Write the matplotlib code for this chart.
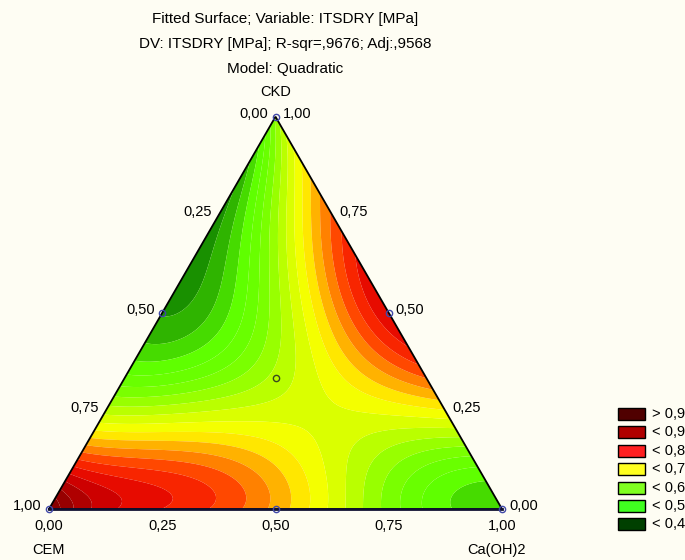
import numpy as np
import matplotlib
matplotlib.use("Agg")
import matplotlib.pyplot as plt
import matplotlib.tri as mtri
from matplotlib.colors import LinearSegmentedColormap
from matplotlib.patches import Rectangle

plt.rcParams['font.family'] = ['Liberation Sans', 'DejaVu Sans']

# ITS dry [MPa] over the mixture: Ca(OH)2 and CKD fractions (CEM = rest)
caoh = [0.0,
        0.0, 0.0625, 0.125,
        0.2,
        0.0, 0.086, 0.14, 0.185, 0.207, 0.236,
        0.007, 0.047, 0.129, 0.213, 0.25, 0.283, 0.32, 0.36, 0.37,
        0.006, 0.072, 0.17, 0.253, 0.27, 0.315, 0.355, 0.39, 0.46, 0.5,
        0.0, 0.133, 0.288, 0.35, 0.4, 0.458, 0.52, 0.585, 0.6,
        0.1, 0.25,
        0.0, 0.183, 0.35, 0.404, 0.51, 0.625, 0.69, 0.7,
        0.0, 0.19, 0.4, 0.52, 0.675, 0.8,
        0.0, 0.15, 0.3, 0.37, 0.445, 0.504, 0.614, 0.725, 0.88, 0.9,
        0.0, 0.11, 0.22, 0.33, 0.42, 0.5, 0.576, 0.66, 0.775, 0.93, 1.0]
ckd = [1.0,
       0.875, 0.875, 0.875,
       0.8,
       0.76, 0.76, 0.76, 0.76, 0.76, 0.76,
       0.63, 0.63, 0.63, 0.63, 0.63, 0.63, 0.63, 0.63, 0.63,
       0.5, 0.5, 0.5, 0.5, 0.5, 0.5, 0.5, 0.5, 0.5, 0.5,
       0.4, 0.4, 0.4, 0.4, 0.4, 0.4, 0.4, 0.4, 0.4,
       0.33, 0.35,
       0.3, 0.3, 0.3, 0.3, 0.3, 0.3, 0.3, 0.3,
       0.2, 0.2, 0.2, 0.2, 0.2, 0.2,
       0.1, 0.1, 0.1, 0.1, 0.1, 0.1, 0.1, 0.1, 0.1, 0.1,
       0.0, 0.0, 0.0, 0.0, 0.0, 0.0, 0.0, 0.0, 0.0, 0.0, 0.0]
its = [0.60,
       0.52, 0.60, 0.70,
       0.76,
       0.45, 0.56, 0.63, 0.69, 0.75, 0.80,
       0.44, 0.50, 0.56, 0.63, 0.69, 0.74, 0.78, 0.81, 0.82,
       0.46, 0.51, 0.56, 0.60, 0.64, 0.69, 0.74, 0.78, 0.82, 0.83,
       0.51, 0.56, 0.59, 0.64, 0.69, 0.74, 0.78, 0.82, 0.82,
       0.56, 0.58,
       0.60, 0.58, 0.62, 0.68, 0.70, 0.72, 0.75, 0.75,
       0.69, 0.68, 0.69, 0.66, 0.62, 0.64,
       0.84, 0.81, 0.79, 0.77, 0.74, 0.71, 0.66, 0.58, 0.55, 0.55,
       0.95, 0.87, 0.83, 0.80, 0.77, 0.74, 0.70, 0.65, 0.56, 0.54, 0.50]

# design points shown as markers (CEM, Ca(OH)2, CKD)
design_cem  = [1.0, 0.0, 0.0, 0.5, 0.5, 0.0, 1/3]
design_caoh = [0.0, 1.0, 0.0, 0.5, 0.0, 0.5, 1/3]
design_ckd  = [0.0, 0.0, 1.0, 0.0, 0.5, 0.5, 1/3]

axis_ticks = [0.0, 0.25, 0.5, 0.75, 1.0]

legend_labels = ["> 0,9", "< 0,9", "< 0,8", "< 0,7", "< 0,6", "< 0,5", "< 0,4"]
legend_colors = ["#500000", "#b00000", "#ff2020", "#ffff20", "#80ff20", "#40ff20", "#004000"]

title_lines = ["Fitted Surface; Variable: ITSDRY [MPa]",
               "DV: ITSDRY [MPa]; R-sqr=,9676; Adj:,9568",
               "Model: Quadratic"]

bg = "#fefdf3"
W, H = 685, 560
S3 = np.sqrt(3) / 2
DEG = 5


def tern_xy(b, c):
    b = np.asarray(b, float)
    c = np.asarray(c, float)
    return b + c / 2, c * S3


def poly_terms(b, c):
    b = np.asarray(b, float)
    c = np.asarray(c, float)
    return np.column_stack([b ** i * c ** j
                            for i in range(DEG + 1)
                            for j in range(DEG + 1 - i)])

coef, *_ = np.linalg.lstsq(poly_terms(caoh, ckd), np.array(its), rcond=None)

n = 150
bb, cc = [], []
for i in range(n + 1):
    for j in range(n + 1 - i):
        bb.append(i / n)
        cc.append(j / n)
bb = np.array(bb)
cc = np.array(cc)
zz = poly_terms(bb, cc) @ coef
gx, gy = tern_xy(bb, cc)
tri = mtri.Triangulation(gx, gy)

anchors = [(0.30, "#002800"), (0.40, "#004c00"), (0.45, "#108000"),
           (0.50, "#38c400"), (0.53, "#5cff00"), (0.58, "#70ff00"),
           (0.625, "#a8ff00"), (0.66, "#d8ff00"), (0.70, "#ffff00"),
           (0.725, "#ffcc00"), (0.75, "#ff9a00"), (0.775, "#ff6400"),
           (0.80, "#ff3000"), (0.85, "#e00000"), (0.90, "#a00000"),
           (1.05, "#400000")]
lo, hi = anchors[0][0], anchors[-1][0]
cmap = LinearSegmentedColormap.from_list(
    "its", [((v - lo) / (hi - lo), col) for v, col in anchors])
levels = np.arange(0.30, 1.051, 0.025)

fig = plt.figure(figsize=(W / 100, H / 100), dpi=100, facecolor=bg)
ax = fig.add_axes([0, 0, 1, 1])
ax.set_facecolor(bg)
ax.set_xlim(-49 / 453, (W - 49) / 453)
ax.set_ylim(-51 / 453, (H - 51) / 453)
ax.axis("off")

mids = (levels[:-1] + levels[1:]) / 2
band_colors = [cmap((m - lo) / (hi - lo)) for m in mids]
ax.tricontourf(tri, np.clip(zz, levels[0], levels[-1]), levels=levels,
               colors=band_colors, antialiased=True)

# triangle outline
ox, oy = tern_xy([0, 1, 0, 0], [0, 0, 1, 0])
ax.plot(ox, oy, color="black", lw=1.3, solid_joinstyle="miter")
ax.plot(ox[:2], oy[:2], color="#101030", lw=2.0)

# design points
px_, py_ = tern_xy(design_caoh, design_ckd)
ax.plot(px_[:-1], py_[:-1], "o", ms=4.5, mfc="none", mec="#4048a8", mew=1.0)
ax.plot(px_[-1:], py_[-1:], "o", ms=4.5, mfc="none", mec="#3a4a20", mew=1.0)

fs = 10.5
fmt = lambda v: f"{v:.2f}".replace(".", ",")
for v in axis_ticks:
    # CEM scale on the left edge
    x, y = tern_xy(0, 1 - v)
    ax.annotate(fmt(v), (x, y), xytext=(-7, 3), textcoords="offset pixels",
                ha="right", va="center", fontsize=fs)
    # CKD scale on the right edge
    x, y = tern_xy(1 - v, v)
    ax.annotate(fmt(v), (x, y), xytext=(7, 3), textcoords="offset pixels",
                ha="left", va="center", fontsize=fs)
    # Ca(OH)2 scale along the base
    x, y = tern_xy(v, 0)
    ax.annotate(fmt(v), (x, y), xytext=(0, -17), textcoords="offset pixels",
                ha="center", va="center", fontsize=fs)

x, y = tern_xy(0, 0)
ax.annotate("CEM", (x, y), xytext=(0, -41), textcoords="offset pixels",
            ha="center", va="center", fontsize=fs)
x, y = tern_xy(1, 0)
ax.annotate("Ca(OH)2", (x, y), xytext=(-5, -41), textcoords="offset pixels",
            ha="center", va="center", fontsize=fs)
x, y = tern_xy(0, 1)
ax.annotate("CKD", (x, y), xytext=(0, 25), textcoords="offset pixels",
            ha="center", va="center", fontsize=fs)

for k, line in enumerate(title_lines):
    fig.text(285 / W, 1 - (19 + 25 * k) / H, line, ha="center", va="center",
             fontsize=11)

# legend, partly running off the right edge
for k, (lab, col) in enumerate(zip(legend_labels, legend_colors)):
    yc = 414 + 18.4 * k
    fig.patches.append(Rectangle((618 / W, 1 - (yc + 6) / H), 27 / W, 12 / H,
                                 transform=fig.transFigure, facecolor=col,
                                 edgecolor="black", lw=1.0))
    fig.text(652 / W, 1 - yc / H, lab, ha="left", va="center", fontsize=fs)

fig.savefig("out.png", dpi=100, facecolor=bg)
